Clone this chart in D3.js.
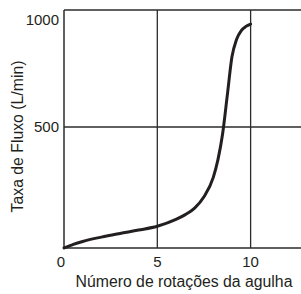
<!DOCTYPE html>
<html>
<head>
<meta charset="utf-8">
<script src="https://cdn.jsdelivr.net/npm/d3@7"></script>
<style>
  body { margin: 0; background: #fff; }
  text { font-family: "Liberation Sans", Arial, sans-serif; fill: #231f20; }
</style>
</head>
<body>
<svg id="chart"></svg>
<script>
// data
var rotations = [0, 0.5, 1, 2, 3, 4, 5, 6, 6.5, 7, 7.5, 8, 8.25, 8.5, 8.75, 9, 9.25, 9.5, 9.75, 10]
var flow = [0, 15, 27, 45, 60, 74, 90, 118, 138, 165, 212, 292, 365, 472, 635, 800, 875, 912, 930, 940]
var xTicks = [0, 5, 10]
var yTicks = [500, 1000]

var width = 301, height = 294
var svg = d3.select('#chart').attr('width', width).attr('height', height)

var x = d3.scaleLinear().domain([0, 12.7]).range([64, 301])
// the printed axis is a little uneven, so it is piecewise
var y = d3.scaleLinear().domain([0, 500, 1000]).range([248, 127, 10])

var ink = '#2b2b2b'

// grid lines
svg.selectAll('.vgrid')
    .data(xTicks.filter(function(d) { return d > 0 }))
    .enter()
    .append('line')
    .attr('x1', function(d) { return x(d) })
    .attr('x2', function(d) { return x(d) })
    .attr('y1', y(1000))
    .attr('y2', y(0))
    .attr('stroke', ink)
    .attr('stroke-width', 1.3)

svg.selectAll('.hgrid')
    .data(yTicks)
    .enter()
    .append('line')
    .attr('x1', x(0))
    .attr('x2', x(12.7))
    .attr('y1', function(d) { return y(d) })
    .attr('y2', function(d) { return y(d) })
    .attr('stroke', ink)
    .attr('stroke-width', 1.3)

// axes lines
svg.append('line')
    .attr('x1', x(0)).attr('x2', x(0))
    .attr('y1', y(1000)).attr('y2', y(0))
    .attr('stroke', ink).attr('stroke-width', 1.5)
svg.append('line')
    .attr('x1', x(0)).attr('x2', x(12.7))
    .attr('y1', y(0)).attr('y2', y(0))
    .attr('stroke', ink).attr('stroke-width', 1.5)

// tick labels
svg.selectAll('.xlab')
    .data(xTicks)
    .enter()
    .append('text')
    .attr('x', function(d) { return d === 0 ? x(d) - 3 : x(d) })
    .attr('y', 267)
    .attr('text-anchor', 'middle')
    .attr('font-size', 15)
    .text(function(d) { return d })

svg.selectAll('.ylab')
    .data(yTicks)
    .enter()
    .append('text')
    .attr('x', x(0) - 5)
    .attr('y', function(d) { return d === 1000 ? y(d) + 10 : y(d) })
    .attr('dy', '0.35em')
    .attr('text-anchor', 'end')
    .attr('font-size', 15)
    .text(function(d) { return d })

// axis titles
svg.append('text')
    .attr('x', 184)
    .attr('y', 287)
    .attr('text-anchor', 'middle')
    .attr('font-size', 15.8)
    .text('Número de rotações da agulha')

svg.append('text')
    .attr('transform', 'translate(22.5,136.5) rotate(-90)')
    .attr('text-anchor', 'middle')
    .attr('font-size', 15.8)
    .text('Taxa de Fluxo (L/min)')

// the curve
var pts = rotations.map(function(r, i) { return [r, flow[i]] })
var line = d3.line()
    .x(function(d) { return x(d[0]) })
    .y(function(d) { return y(d[1]) })
    .curve(d3.curveMonotoneX)

svg.append('path')
    .attr('d', line(pts))
    .attr('fill', 'none')
    .attr('stroke', '#231f20')
    .attr('stroke-width', 3)
    .attr('stroke-linecap', 'round')
</script>
</body>
</html>
